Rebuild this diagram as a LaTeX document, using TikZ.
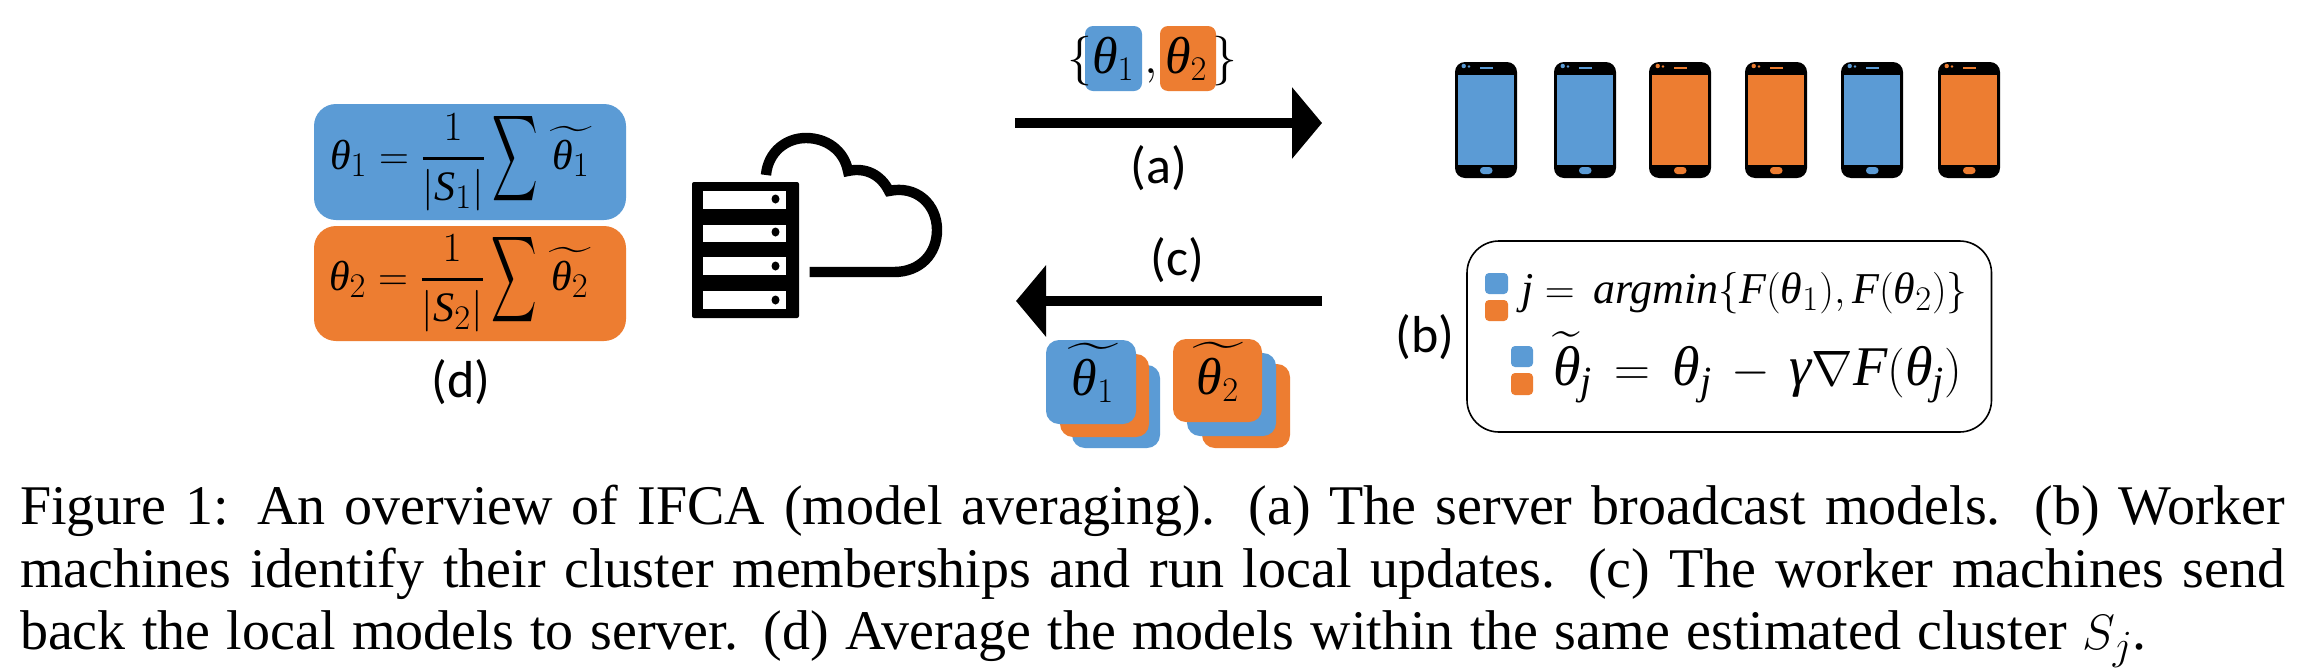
\documentclass[tikz,border=0pt]{standalone}
\usepackage{amsmath}
\usepackage{fontspec}
\setmainfont{Liberation Serif}
\newfontfamily\labelfont{Carlito}
\usetikzlibrary{arrows.meta}
\definecolor{fblue}{HTML}{5B9BD5}
\definecolor{forange}{HTML}{ED7D31}
\DeclareMathSizes{21}{21}{16}{12}
\DeclareMathSizes{22}{22}{16}{12}
\DeclareMathSizes{26}{26}{19}{14}
\DeclareMathSizes{28}{28}{20}{14}
\newcommand{\fsz}[1]{\fontsize{#1}{#1}\selectfont}
\newcommand{\mi}[1]{\text{\itshape #1}}
\newcommand{\thet}{\mi{θ}}
\newcommand{\bigsum}{\mathop{\vcenter{\hbox{\scalebox{0.76}[1.45]{$\displaystyle\sum$}}}}}
\newcommand{\wtl}[1]{\widetilde{\,\thet_{#1}\,}}
\newcommand{\avgeq}[1]{$\displaystyle\thet_{#1}={\genfrac{}{}{1.5pt}{}{1}{|\mi{S}_{#1}|}}\bigsum\wtl{#1}$}
\tikzset{
  tx/.style={inner sep=0pt,outer sep=0pt,anchor=base west},
  cx/.style={inner sep=0pt,outer sep=0pt,anchor=base},
  lab/.style={cx,font=\labelfont\fsz{26}},
  caption/.style={tx,font=\fsz{28}},
  bigbox/.style={rounded corners=11pt},
  stackbox/.style={rounded corners=6.5pt},
  chip/.style={rounded corners=2pt},
  flow/.style={line width=4.8pt,-{Triangle[length=15pt,width=35pt]}},
  cloudline/.style={line width=5.2pt,miter limit=10},
  phonebody/.style={fill=black,rounded corners=5pt}
}
\begin{document}
\begin{tikzpicture}[x=0.5pt,y=-0.5pt]
\useasboundingbox (0,0) rectangle (2308,670);
\fill[white] (0,0) rectangle (2308,670);

% (d) averaging boxes
\fill[fblue,bigbox] (314,104) rectangle (626,220);
\fill[forange,bigbox] (314,226) rectangle (626,341);
\node[tx,font=\fsz{21}] (avg1) at (330,169) {\avgeq{1}};
\node[tx,font=\fsz{21}] (avg2) at (329,290) {\avgeq{2}};
\node[lab] (labd) at (461,397) {(d)};

% server
\fill[black,rounded corners=1pt] (692,182) rectangle (799,318);
\foreach \ya/\yb/\yd in {191/209/199,225/242/232,257/275/266,291/309/300}{
  \fill[white] (703,\ya) rectangle (786,\yb);
  \fill[black] (775.5,\yd) ellipse [x radius=4,y radius=4.5];
}
% cloud
\draw[cloudline] (766,175) .. controls (768,152) and (786,138) .. (806,138)
  .. controls (826,138) and (844,150) .. (848,171)
  .. controls (866,167) and (881,175) .. (889,191)
  .. controls (916,185) and (937,204) .. (937,230)
  .. controls (937,254) and (920,272) .. (894,272) -- (809.5,272);

% top arrow and models
\coordinate (atail) at (1015,123);
\coordinate (ahead) at (1322,123);
\draw[flow] (atail) -- (ahead);
\fill[fblue,rounded corners=4pt] (1085,26) rectangle (1142,91);
\fill[forange,rounded corners=4pt] (1160,26) rectangle (1216,91);
\node[tx,font=\fsz{26}] (lbrace) at (1067,73) {$\{$};
\node[tx,font=\fsz{26}] (mt1) at (1092,73) {$\thet_1$};
\node[tx,font=\fsz{26}] (comma) at (1144,73) {$,$};
\node[tx,font=\fsz{26}] (mt2) at (1165,73) {$\thet_2$};
\node[tx,font=\fsz{26}] (rbrace) at (1212,73) {$\}$};
\node[lab] (laba) at (1159,183) {(a)};

% phones
\foreach \px/\col in {1455/fblue,1554/fblue,1649/forange,1745/forange,1841/fblue,1938/forange}{
  \fill[phonebody] (\px,62) rectangle ++(62,116);
  \fill[\col] (\px+3.2,75) rectangle ++(55.6,90);
  \fill[\col] (\px+8.7,66) circle [radius=1.1pt];
  \fill[\col] (\px+14,66.5) circle [radius=0.7pt];
  \fill[\col] (\px+25,67) rectangle ++(12.5,1.6);
  \fill[\col,rounded corners=1.7pt] (\px+25,167) rectangle ++(12.5,7);
}

% bottom arrow
\coordinate (ctail) at (1322,301);
\coordinate (chead) at (1016,301);
\draw[flow] (ctail) -- (chead);
\node[lab] (labc) at (1177,275) {(c)};

% local model stacks
\fill[fblue,stackbox] (1072,365) rectangle (1160,448);
\fill[forange,stackbox] (1060,354) rectangle (1149,437);
\fill[fblue,stackbox] (1046,340) rectangle (1136,424);
\node[cx,font=\fsz{26}] (lt1) at (1093,395) {$\wtl{1}$};
\fill[forange,stackbox] (1202,364) rectangle (1290,448);
\fill[fblue,stackbox] (1187,353) rectangle (1276,436);
\fill[forange,stackbox] (1173,339) rectangle (1262,422);
\node[cx,font=\fsz{26}] (lt2) at (1218,394) {$\wtl{2}$};

% (b) box
\node[lab] (labb) at (1425,352) {(b)};
\draw[black,line width=0.8pt,rounded corners=16pt] (1467,241) rectangle (1991.5,432);
\fill[fblue,chip] (1485,273) rectangle (1508,294);
\fill[forange,chip] (1485,300) rectangle (1508,321);
\fill[fblue,chip] (1511,346) rectangle (1533,367);
\fill[forange,chip] (1511,373) rectangle (1533,395);
\node[tx,font=\fsz{22}] (eqone) at (1521,303) {$\mi{j}=\,\mi{argmin}\{\mi{F}(\thet_1),\mi{F}(\thet_2)\}$};
\node[tx,font=\fsz{28}] (eqtwo) at (1553,385) {$\widetilde{\thet}_{\mi{j}}\,=\,\thet_{\mi{j}}\,-\,\mi{γ}\nabla\mi{F}(\thet_{\mi{j}})$};

% caption
\node[caption] (cap1) at (20,524) {\makebox[1132.5pt][s]{Figure 1: An overview of IFCA (model averaging). (a) The server broadcast models. (b) Worker}};
\node[caption] (cap2) at (20,587) {\makebox[1132.5pt][s]{machines identify their cluster memberships and run local updates. (c) The worker machines send}};
\node[caption] (cap3) at (20,649) {\makebox[1063.5pt][s]{back the local models to server. (d) Average the models within the same estimated cluster $S_j$.}};
\end{tikzpicture}
\end{document}
